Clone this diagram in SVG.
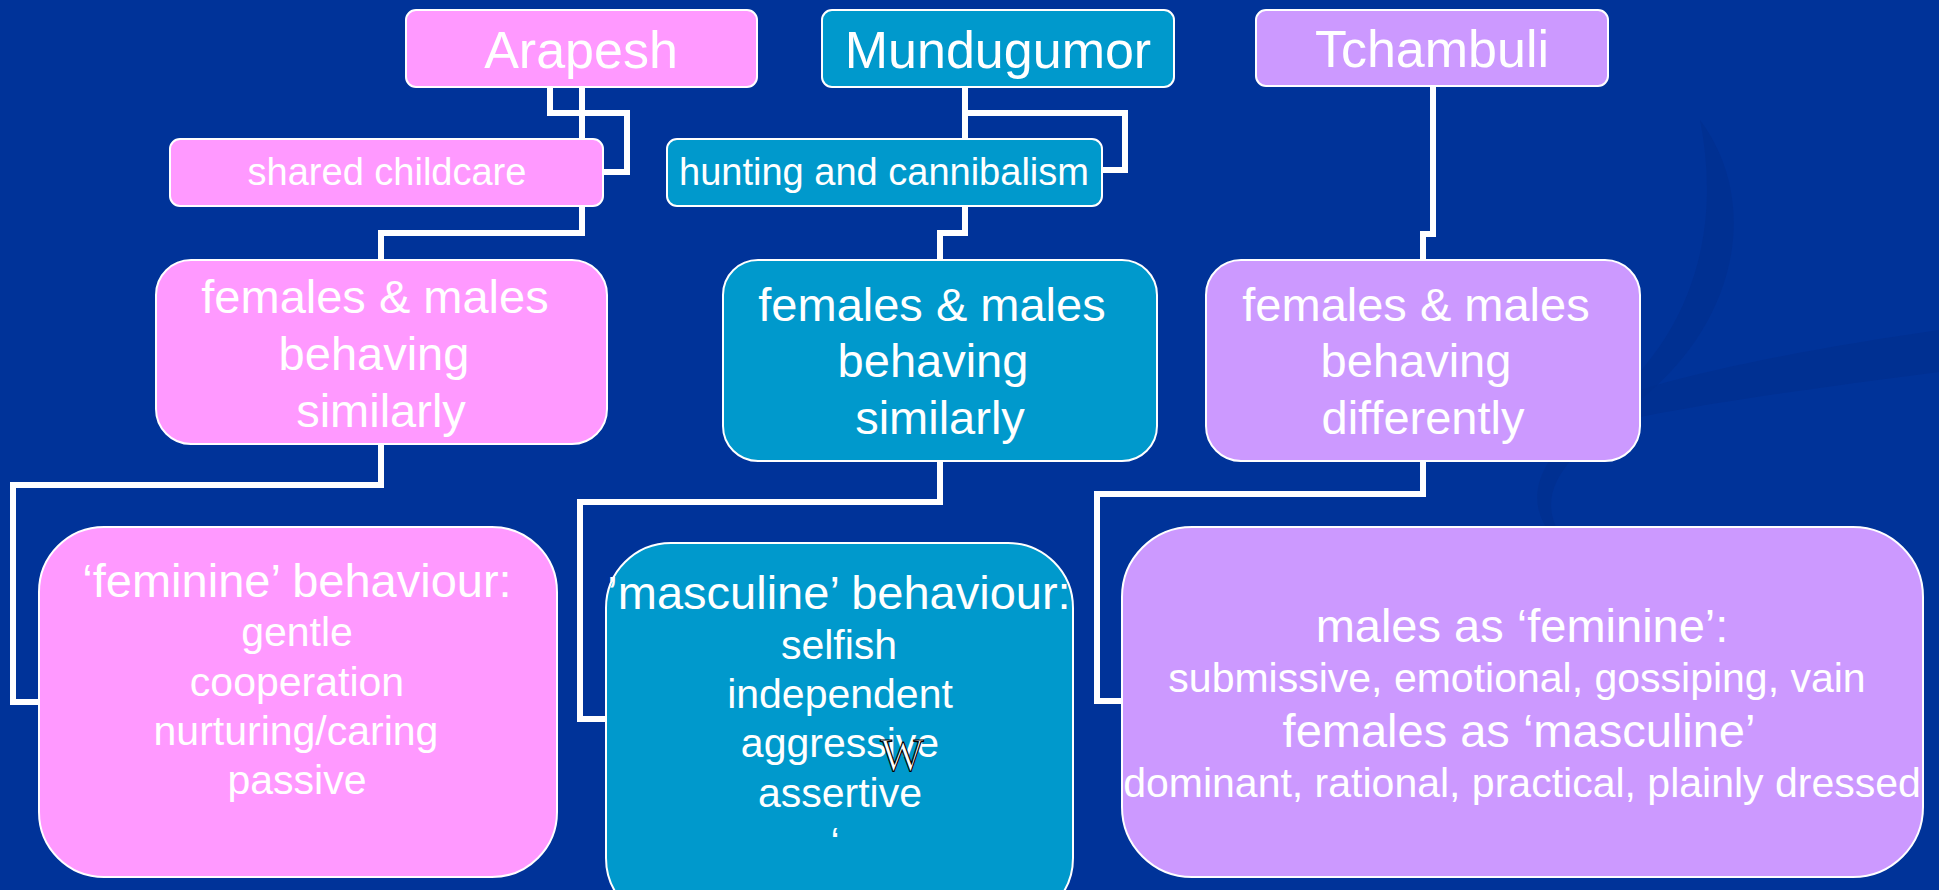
<svg xmlns="http://www.w3.org/2000/svg" width="1939" height="890" viewBox="0 0 1939 890">
<defs>
<style>
.bg{fill:#003399}
.sw{fill:#002f8f;opacity:0.7}
.box{stroke:#ffffff;stroke-width:2}
.pink{fill:#ff99ff}
.teal{fill:#0099cc}
.lav{fill:#cc99ff}
.conn{fill:none;stroke:#ffffff;stroke-width:6;stroke-linejoin:miter;stroke-linecap:butt}
text{font-family:"Liberation Sans",Arial,sans-serif;fill:#ffffff;text-anchor:middle}
.t52{font-size:52px}
.t47{font-size:47px}
.t41{font-size:41px}
.t38{font-size:38px}
</style>
</defs>
<rect class="bg" x="0" y="0" width="1939" height="890"/>
<path class="sw" d="M1939,330 C1800,350 1640,380 1560,420 C1540,430 1545,440 1560,436 C1650,410 1800,390 1939,372 Z"/>
<path class="sw" d="M1700,120 C1760,200 1740,320 1640,400 C1560,460 1520,500 1580,560 C1520,520 1520,470 1600,410 C1700,330 1720,220 1700,120 Z"/>

<g id="connectors">
<path class="conn" d="M550,87 V113 H627 V172 H603"/>
<path class="conn" d="M582,87 V233 H381 V260"/>
<path class="conn" d="M381,444 V485 H13 V702 H39"/>
<path class="conn" d="M965,87 V113 H1125 V170 H1102"/>
<path class="conn" d="M965,87 V233 H940 V260"/>
<path class="conn" d="M940,461 V502 H580 V719 H606"/>
<path class="conn" d="M1433,86 V234 H1423 V260"/>
<path class="conn" d="M1423,461 V494 H1097 V701 H1122"/>
</g>

<g id="arapesh">
<rect class="box pink" x="406" y="10" width="351" height="77" rx="10"/>
<text class="t52" x="581" y="68">Arapesh</text>
</g>
<g id="mundugumor">
<rect class="box teal" x="822" y="10" width="352" height="77" rx="10"/>
<text class="t52" x="998" y="68">Mundugumor</text>
</g>
<g id="tchambuli">
<rect class="box lav" x="1256" y="10" width="352" height="76" rx="10"/>
<text class="t52" x="1432" y="67">Tchambuli</text>
</g>

<g id="shared-childcare">
<rect class="box pink" x="170" y="139" width="433" height="67" rx="10"/>
<text class="t38" x="387" y="185">shared childcare</text>
</g>
<g id="hunting">
<rect class="box teal" x="667" y="139" width="435" height="67" rx="10"/>
<text class="t38" x="884" y="185">hunting and cannibalism</text>
</g>

<g id="arapesh-similar">
<rect class="box pink" x="156" y="260" width="451" height="184" rx="35"/>
<text class="t47" x="375" y="313">females &amp; males</text>
<text class="t47" x="374" y="370">behaving</text>
<text class="t47" x="381" y="427">similarly</text>
</g>
<g id="mundugumor-similar">
<rect class="box teal" x="723" y="260" width="434" height="201" rx="35"/>
<text class="t47" x="932" y="321">females &amp; males</text>
<text class="t47" x="933" y="377">behaving</text>
<text class="t47" x="940" y="434">similarly</text>
</g>
<g id="tchambuli-different">
<rect class="box lav" x="1206" y="260" width="434" height="201" rx="35"/>
<text class="t47" x="1416" y="321">females &amp; males</text>
<text class="t47" x="1416" y="377">behaving</text>
<text class="t47" x="1423" y="434">differently</text>
</g>

<g id="feminine">
<rect class="box pink" x="39" y="527" width="518" height="350" rx="65"/>
<text class="t47" x="297" y="597">‘feminine’ behaviour:</text>
<text class="t41" x="297" y="646">gentle</text>
<text class="t41" x="297" y="696">cooperation</text>
<text class="t41" x="296" y="745">nurturing/caring</text>
<text class="t41" x="297" y="794">passive</text>
</g>
<g id="masculine">
<rect class="box teal" x="606" y="543" width="467" height="380" rx="65"/>
<text class="t47" x="839" y="609">’masculine’ behaviour:</text>
<text class="t41" x="839" y="659">selfish</text>
<text class="t41" x="840" y="708">independent</text>
<text class="t41" x="840" y="757">aggressive</text>
<text class="t41" x="840" y="807">assertive</text>
<text class="t41" x="835" y="856">‘</text>
<text x="902" y="771" style="font-family:'Liberation Serif',serif;font-size:46px;fill:#ffffff;stroke:#000000;stroke-width:1.2">W</text>
</g>
<g id="tchambuli-roles">
<rect class="box lav" x="1122" y="527" width="801" height="350" rx="70"/>
<text class="t47" x="1522" y="642">males as ‘feminine’:</text>
<text class="t41" x="1517" y="692">submissive, emotional, gossiping, vain</text>
<text class="t47" x="1519" y="747">females as ‘masculine’</text>
<text class="t41" x="1522" y="797">dominant, rational, practical, plainly dressed</text>
</g>
</svg>
